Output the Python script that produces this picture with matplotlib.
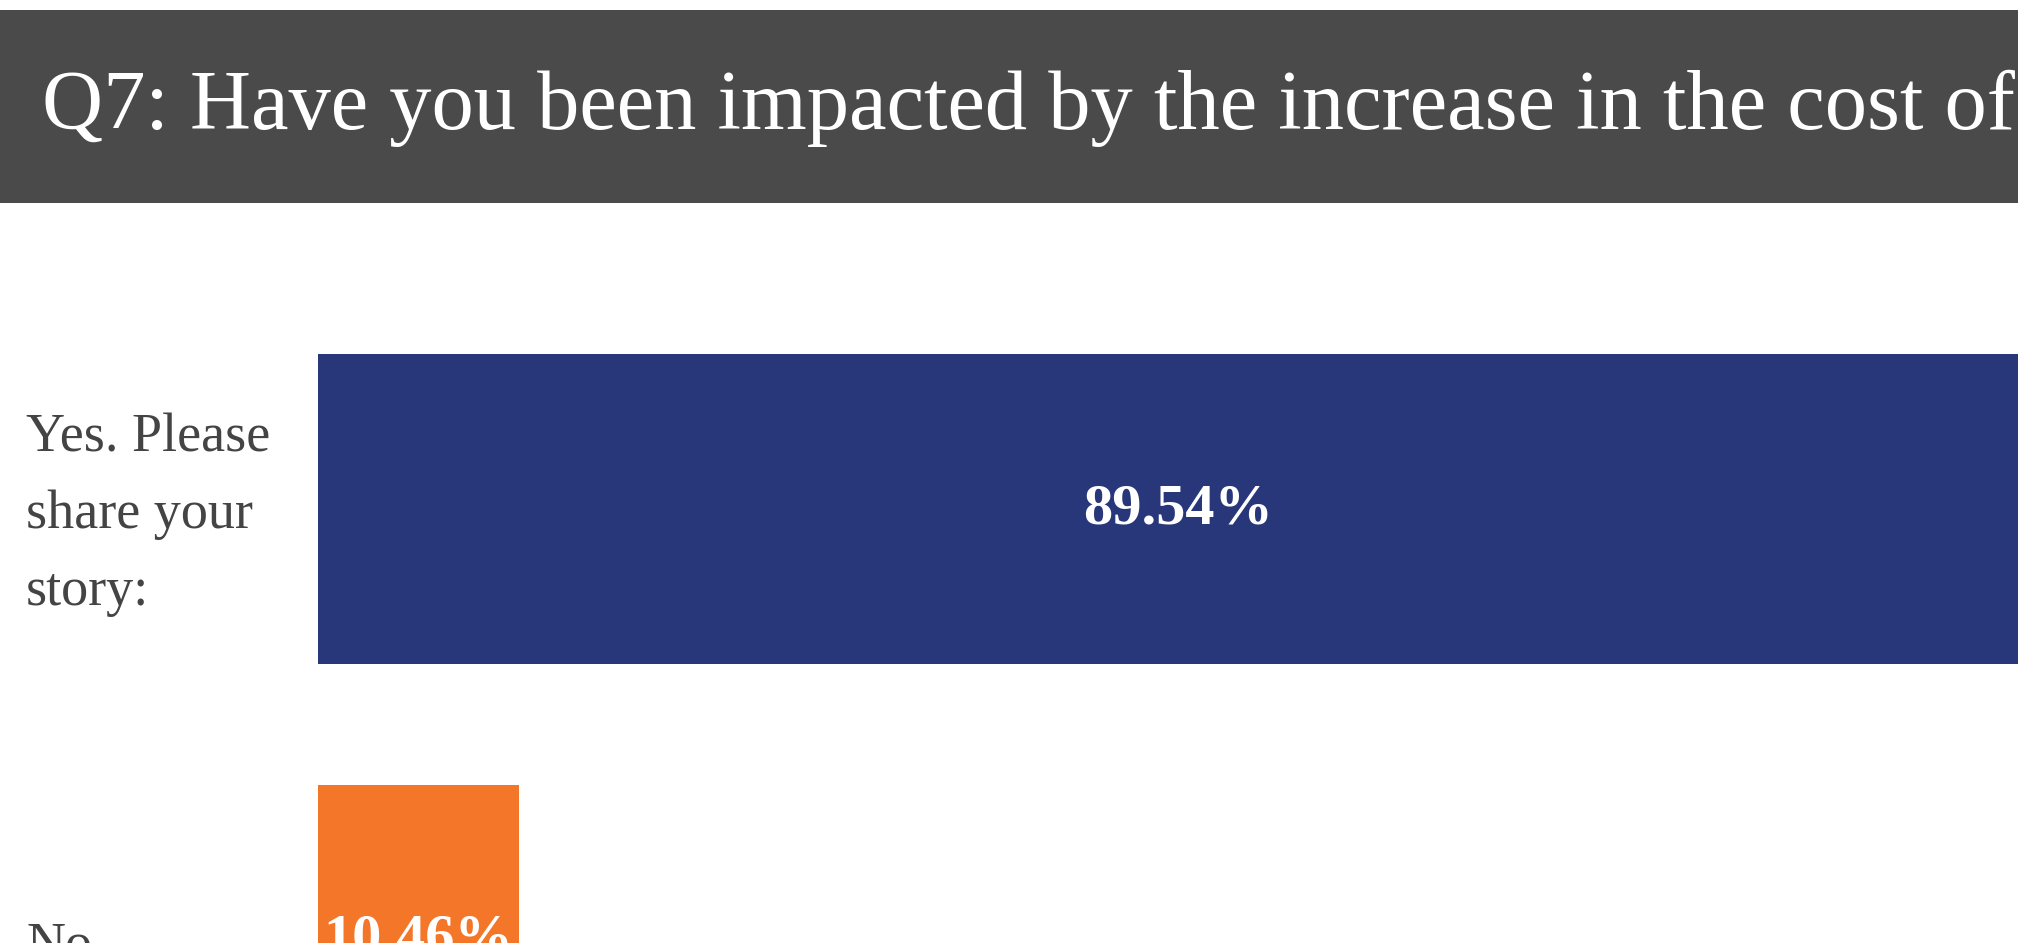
import matplotlib.pyplot as plt
from matplotlib.patches import Rectangle
from matplotlib.transforms import blended_transform_factory, offset_copy

# Data
categories = ["Yes. Please\nshare your\nstory:", "No"]
values = [89.54, 10.46]
bar_colors = ["#283779", "#f47629"]
title = "Q7: Have you been impacted by the increase in the cost of"

W, H = 2018, 943
fig = plt.figure(figsize=(W / 100, H / 100), dpi=100)
fig.patch.set_facecolor("white")

# dark title band across the top
fig.patches.append(Rectangle((0, (H - 203) / H), 1, 193 / H, transform=fig.transFigure,
                             facecolor="#4a4a4a", edgecolor="none", zorder=0))
fig.text(42 / W, (H - 129) / H, title, color="white", fontsize=60.8,
         family="Liberation Serif", va="baseline", ha="left")

# axes run off the right and bottom edge of the picture (cropped chart)
ax = fig.add_axes([318 / W, -212.5 / H, 1920 / W, 862 / H])
ypos = [1, 0]
ax.barh(ypos, values, height=0.72, color=bar_colors)
ax.set_xlim(0, 100)
ax.set_ylim(-0.5, 1.5)
ax.axis("off")

for y, v in zip(ypos, values):
    ax.text(v / 2, y, f"{v:.2f}%", color="white", fontsize=42, fontweight="bold",
            family="Liberation Serif", ha="center", va="center")

# category labels, left aligned near the figure edge, nudged down a little
trans = offset_copy(blended_transform_factory(fig.transFigure, ax.transData),
                    fig=fig, y=-6, units="dots")
for y, lab in zip(ypos, categories):
    ax.text(26 / W, y, lab, transform=trans, color="#444444", fontsize=39,
            family="Liberation Serif", ha="left", va="center", linespacing=1.68)

plt.savefig("out.png", dpi=100)
